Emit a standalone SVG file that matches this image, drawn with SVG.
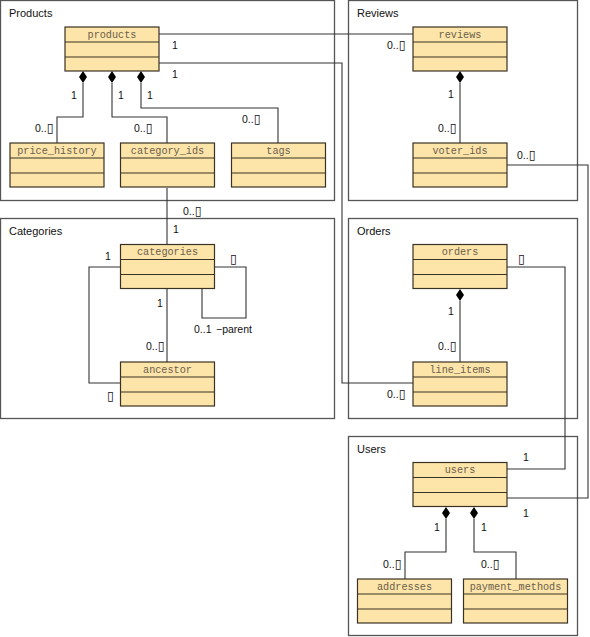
<svg xmlns="http://www.w3.org/2000/svg" width="590" height="637" viewBox="0 0 590 637">
<style>
.pkg{fill:#fff;stroke:#555;stroke-width:1.3}
.pl{font-family:"Liberation Sans",Arial,sans-serif;font-size:11px;fill:#111}
.cls{fill:#fde4a9;stroke:#3a3222;stroke-width:1.2}
.div{stroke:#3a3222;stroke-width:1.2}
.cn{font-family:"Liberation Mono","Courier New",monospace;font-size:10.2px;fill:#6a604c;text-anchor:middle}
.ln{fill:none;stroke:#333;stroke-width:1.1}
.lb{font-family:"Liberation Sans",Arial,sans-serif;font-size:10.5px;fill:#111}
.bx{font-family:"DejaVu Sans",sans-serif;font-size:12.5px}
.dm{fill:#000}
</style>
<defs>
<g id="cbox"><rect class="cls" x="0" y="0" width="94" height="44"/><line class="div" x1="0" y1="15" x2="94" y2="15"/><line class="div" x1="0" y1="30" x2="94" y2="30"/></g>
<path id="dia" d="M0,0 L4,6 L0,12 L-4,6 Z"/>
</defs>

<g id="packages">
<g id="pkg-products"><rect class="pkg" x="0.5" y="0.5" width="334" height="200"/><text class="pl" x="9" y="17">Products</text></g>
<g id="pkg-reviews"><rect class="pkg" x="348.5" y="0.5" width="229" height="200"/><text class="pl" x="357" y="17">Reviews</text></g>
<g id="pkg-categories"><rect class="pkg" x="0.5" y="218.5" width="334" height="200"/><text class="pl" x="9" y="235">Categories</text></g>
<g id="pkg-orders"><rect class="pkg" x="348.5" y="218.5" width="229" height="200"/><text class="pl" x="357" y="235">Orders</text></g>
<g id="pkg-users"><rect class="pkg" x="348.5" y="436.5" width="229" height="199"/><text class="pl" x="357" y="453">Users</text></g>
</g>

<g id="connectors">
<polyline class="ln" points="159,34 413,34"/>
<text class="lb" x="172" y="49">1</text>
<text class="lb" x="387" y="49">0..<tspan class="bx">▯</tspan></text>
<polyline class="ln" points="159,63 342,63 342,383 413,383"/>
<text class="lb" x="172" y="78">1</text>
<text class="lb" x="387" y="398">0..<tspan class="bx">▯</tspan></text>
<use href="#dia" class="dm" x="83" y="71"/>
<polyline class="ln" points="83,83 83,117 57,117 57,143"/>
<text class="lb" x="71" y="99">1</text>
<text class="lb" x="35" y="132">0..<tspan class="bx">▯</tspan></text>
<use href="#dia" class="dm" x="112" y="71"/>
<polyline class="ln" points="112,83 112,117 167,117 167,143"/>
<text class="lb" x="118" y="99">1</text>
<text class="lb" x="134" y="132">0..<tspan class="bx">▯</tspan></text>
<use href="#dia" class="dm" x="141" y="71"/>
<polyline class="ln" points="141,83 141,108 278,108 278,143"/>
<text class="lb" x="147" y="99">1</text>
<text class="lb" x="242" y="123">0..<tspan class="bx">▯</tspan></text>
<polyline class="ln" points="167,188 167,244"/>
<text class="lb" x="183" y="215">0..<tspan class="bx">▯</tspan></text>
<text class="lb" x="173" y="233">1</text>
<polyline class="ln" points="167,289 167,362"/>
<text class="lb" x="157" y="307">1</text>
<text class="lb" x="146" y="350">0..<tspan class="bx">▯</tspan></text>
<polyline class="ln" points="121,267 89,267 89,383 121,383"/>
<text class="lb" x="105" y="260">1</text>
<text class="lb" x="107" y="400"><tspan class="bx">▯</tspan></text>
<polyline class="ln" points="214,267 246,267 246,318 202,318 202,289"/>
<text class="lb" x="230" y="263"><tspan class="bx">▯</tspan></text>
<text class="lb" x="194" y="333">0..1</text>
<text class="lb" x="216" y="333">−parent</text>
<use href="#dia" class="dm" x="460" y="71"/>
<polyline class="ln" points="460,83 460,143"/>
<text class="lb" x="448" y="98">1</text>
<text class="lb" x="438" y="132">0..<tspan class="bx">▯</tspan></text>
<polyline class="ln" points="507,165 588,165 588,498 507,498"/>
<text class="lb" x="517" y="159">0..<tspan class="bx">▯</tspan></text>
<text class="lb" x="523" y="517">1</text>
<use href="#dia" class="dm" x="460" y="289"/>
<polyline class="ln" points="460,301 460,362"/>
<text class="lb" x="448" y="315">1</text>
<text class="lb" x="438" y="350">0..<tspan class="bx">▯</tspan></text>
<polyline class="ln" points="507,267 565,267 565,469 507,469"/>
<text class="lb" x="518" y="263"><tspan class="bx">▯</tspan></text>
<text class="lb" x="523" y="461">1</text>
<use href="#dia" class="dm" x="446" y="507"/>
<polyline class="ln" points="446,519 446,552 405,552 405,579"/>
<text class="lb" x="434" y="531">1</text>
<text class="lb" x="383" y="568">0..<tspan class="bx">▯</tspan></text>
<use href="#dia" class="dm" x="474" y="507"/>
<polyline class="ln" points="474,519 474,552 516,552 516,579"/>
<text class="lb" x="481" y="531">1</text>
<text class="lb" x="481" y="568">0..<tspan class="bx">▯</tspan></text>
</g>

<g id="products"><use href="#cbox" x="65" y="27"/><text class="cn" x="112" y="37.5">products</text></g>
<g id="price_history"><use href="#cbox" x="10" y="143"/><text class="cn" x="57" y="153.5">price_history</text></g>
<g id="category_ids"><use href="#cbox" x="120.5" y="143"/><text class="cn" x="167.5" y="153.5">category_ids</text></g>
<g id="tags"><use href="#cbox" x="231.5" y="143"/><text class="cn" x="278.5" y="153.5">tags</text></g>
<g id="reviews"><use href="#cbox" x="413" y="27"/><text class="cn" x="460" y="37.5">reviews</text></g>
<g id="voter_ids"><use href="#cbox" x="413" y="143"/><text class="cn" x="460" y="153.5">voter_ids</text></g>
<g id="categories"><use href="#cbox" x="120.5" y="244.5"/><text class="cn" x="167.5" y="255">categories</text></g>
<g id="ancestor"><use href="#cbox" x="120.5" y="362"/><text class="cn" x="167.5" y="372.5">ancestor</text></g>
<g id="orders"><use href="#cbox" x="413" y="244.5"/><text class="cn" x="460" y="255">orders</text></g>
<g id="line_items"><use href="#cbox" x="413" y="362"/><text class="cn" x="460" y="372.5">line_items</text></g>
<g id="users"><use href="#cbox" x="413" y="462.5"/><text class="cn" x="460" y="473">users</text></g>
<g id="addresses"><use href="#cbox" x="357.5" y="579"/><text class="cn" x="404.5" y="589.5">addresses</text></g>
<g id="payment_methods"><rect class="cls" x="463.5" y="579" width="104" height="44"/><line class="div" x1="463.5" y1="594" x2="567.5" y2="594"/><line class="div" x1="463.5" y1="609" x2="567.5" y2="609"/><text class="cn" x="515.5" y="589.5">payment_methods</text></g>
</svg>
